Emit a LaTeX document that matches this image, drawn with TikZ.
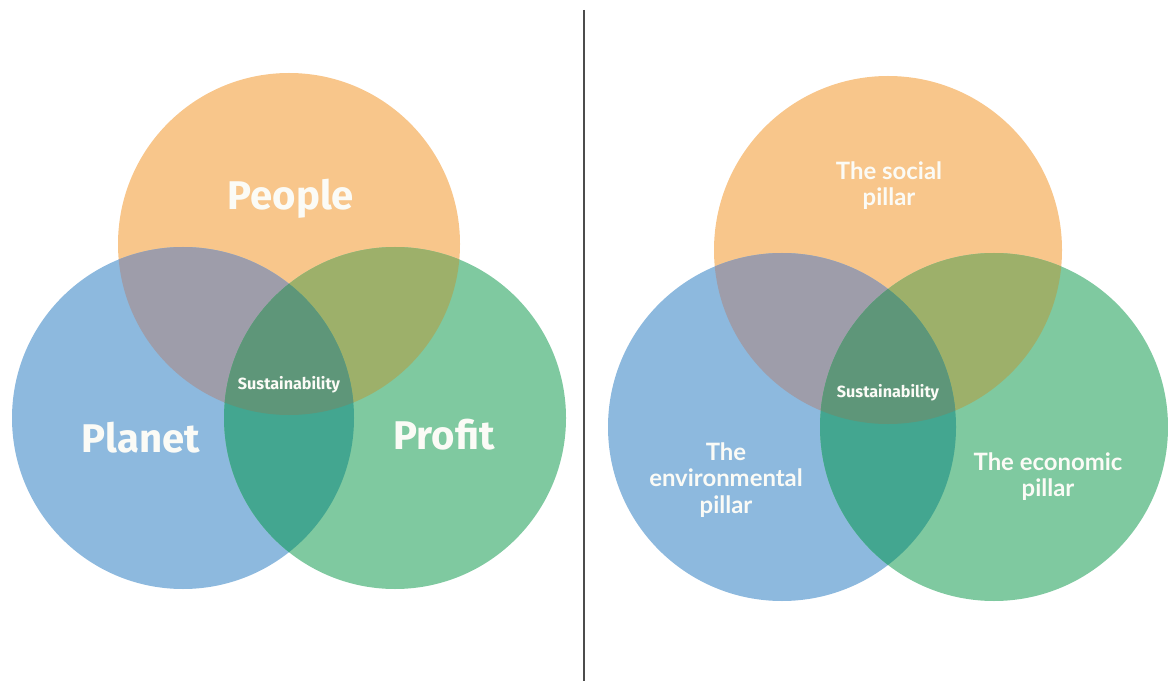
\documentclass[tikz,border=0pt]{standalone}
\usepackage{fontspec}
\setmainfont{Fira Sans}
\newfontfamily\pillarfont{Lato}

\definecolor{peoplecol}{HTML}{F8C68B}
\definecolor{planetcol}{HTML}{8DB9DE}
\definecolor{profitcol}{HTML}{7FC9A0}
\definecolor{peopleplanet}{HTML}{9E9DAA}
\definecolor{peopleprofit}{HTML}{9DB06A}
\definecolor{planetprofit}{HTML}{43A690}
\definecolor{corecol}{HTML}{5E9679}
\definecolor{labelcol}{HTML}{FBFBF6}

\tikzset{
	bigword/.style={text=labelcol, font=\fontsize{28.5}{31}\selectfont\bfseries, inner sep=0pt},
	coreword/.style={text=labelcol, font=\fontsize{11.5}{13}\selectfont\bfseries, inner sep=0pt},
	pillarword/.style={text=labelcol, align=center, font=\pillarfont\fontsize{17}{18.6}\selectfont\bfseries, inner sep=0pt},
	divider/.style={draw=black!70, line width=1pt}
}

\begin{document}
\begin{tikzpicture}[x=0.025cm, y=-0.025cm]

		\useasboundingbox (0,0) rectangle (1168,681);

		% two diagrams: top circle centre, lower row height, radius
		\foreach \tx/\ty/\by/\r in {289/244/418/171, 888/250/427/174}{
		\fill[peoplecol] (\tx,\ty) circle (\r);
		\fill[planetcol] (\tx-106,\by) circle (\r);
		\fill[profitcol] (\tx+106,\by) circle (\r);
		\begin{scope}
			\clip (\tx,\ty) circle (\r);
			\fill[peopleplanet] (\tx-106,\by) circle (\r);
			\fill[peopleprofit] (\tx+106,\by) circle (\r);
		\end{scope}
		\begin{scope}
			\clip (\tx-106,\by) circle (\r);
			\fill[planetprofit] (\tx+106,\by) circle (\r);
			\clip (\tx+106,\by) circle (\r);
			\fill[corecol] (\tx,\ty) circle (\r);
		\end{scope}
		}

		\node[bigword] (people) at (291,199) {People};
		\node[bigword] (planet) at (141,438) {Planet};
		\node[bigword] (profit) at (444,435) {Profit};
		\node[coreword] (sustleft) at (289,385) {Sustainability};

		\node[pillarword] (social) at (889,186) {The social\\pillar};
		\node[pillarword] (environ) at (726,480) {The\\environmental\\pillar};
		\node[pillarword] (economic) at (1048,477) {The economic\\pillar};
		\node[coreword] (sustright) at (888,393) {Sustainability};

		\coordinate (divtop) at (584,10);
		\coordinate (divbot) at (584,681);
		\draw[divider] (divtop) -- (divbot);

\end{tikzpicture}
\end{document}
